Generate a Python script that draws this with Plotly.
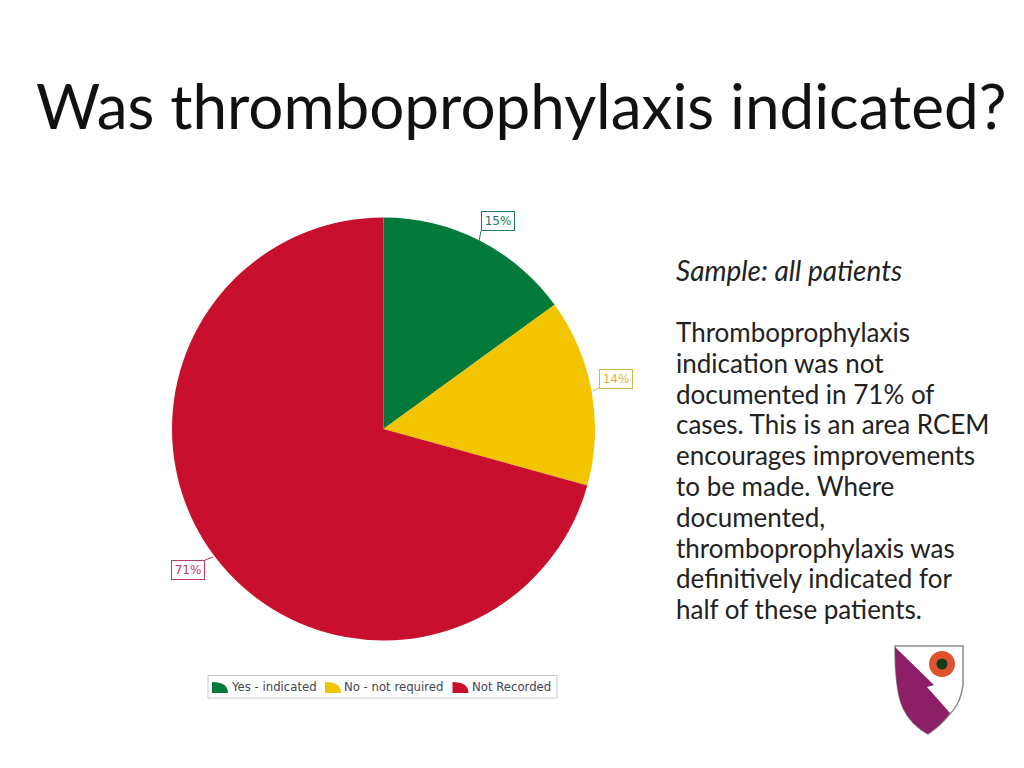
import plotly.graph_objects as go

CATEGORIES = ["Yes - indicated", "No - not required", "Not Recorded"]
VALUES = [15.0, 14.3, 70.7]
LABELS = ["15%", "14%", "71%"]
COLORS = ["#047a3a", "#f2c500", "#c8102e"]
LABEL_COLORS = ["#1f7a5c", "#d8b440", "#bf3a5e"]
TITLE = "Was thromboprophylaxis indicated?"
SAMPLE = "Sample: all patients"
BODY_LINES = ["Thromboprophylaxis", "indication was not", "documented in 71% of",
              "cases. This is an area RCEM", "encourages improvements", "to be made. Where",
              "documented,", "thromboprophylaxis was", "definitively indicated for",
              "half of these patients."]

W, H = 1024, 768
def px(x): return x / W
def py(y): return 1 - y / H
def P(x, y): return f"{px(x):.5f},{py(y):.5f}"
def paper(**kw): return dict(xref="paper", yref="paper", **kw)

cx, cy, r = 383.5, 429, 211.5
fig = go.Figure(go.Pie(
    labels=CATEGORIES, values=VALUES, sort=False, direction="clockwise", rotation=0,
    marker=dict(colors=COLORS, line=dict(width=0)), textinfo="none", hoverinfo="label+percent",
    domain=dict(x=[px(cx - r), px(cx + r)], y=[py(cy + r), py(cy - r)]),
))

ann = []
ann.append(paper(x=px(34), y=py(105), text=TITLE, xanchor="left", yanchor="middle", showarrow=False,
                 font=dict(family="Lato", size=62, color="#111111")))
ann.append(paper(x=px(674), y=py(270), text=f"<i>{SAMPLE}</i>", xanchor="left", yanchor="middle", showarrow=False,
                 font=dict(family="Lato", size=28, color="#222222")))
for i, line in enumerate(BODY_LINES):
    ann.append(paper(x=px(674), y=py(332 + i * 30.8), text=line, xanchor="left", yanchor="middle",
                     showarrow=False, font=dict(family="Lato", size=26, color="#222222")))

shapes = []

# value labels: box centre, then the leader line from the pie edge to the box
box_centres = [(498, 221.5), (616, 378.5), (188, 569.5)]
leaders = [((479, 241), (481, 231)), ((593, 391), (599, 388)), ((213, 557), (205, 560))]
for (bx, by), ((x0, y0), (x1, y1)), lab, col in zip(box_centres, leaders, LABELS, LABEL_COLORS):
    ann.append(paper(x=px(bx), y=py(by), text=lab, showarrow=False, xanchor="center", yanchor="middle",
                     bordercolor=col, borderwidth=1, borderpad=2, bgcolor="white",
                     width=28, height=14,
                     font=dict(family="DejaVu Sans", size=12, color=col)))
    shapes.append(paper(type="line", x0=px(x0), y0=py(y0), x1=px(x1), y1=py(y1),
                        line=dict(color=col, width=1)))

# legend box with quarter-pie swatches, as in the reference
shapes.append(paper(type="rect", x0=px(208), x1=px(557), y0=py(698), y1=py(675.5), fillcolor="white",
                    line=dict(color="#c8c8c8", width=1)))
swatch_x = [212, 325, 452.5]
text_x = [229, 342, 470]
for sx, tx, name, col in zip(swatch_x, text_x, CATEGORIES, COLORS):
    shapes.append(paper(type="path", fillcolor=col, line=dict(width=0),
                        path=f"M {P(sx, 693)} L {P(sx, 682)} Q {P(sx + 16, 682)} {P(sx + 16, 693)} Z"))
    ann.append(paper(x=px(tx), y=py(687), text=name, xanchor="left", yanchor="middle", showarrow=False,
                     font=dict(family="DejaVu Sans", size=11.7, color="#444455")))

# shield emblem
shapes += [
    paper(type="path", fillcolor="white", line=dict(color="#8a8a8a", width=1.5),
          path=f"M {P(895, 646)} L {P(963, 646)} L {P(963, 685)} Q {P(961, 703)} {P(950, 714)} "
               f"Q {P(940, 726)} {P(928, 734)} Q {P(911, 725)} {P(903, 708)} Q {P(895, 690)} {P(895, 646)} Z"),
    paper(type="path", fillcolor="#8c1f66", line=dict(width=0),
          path=f"M {P(895, 647)} L {P(934, 685)} L {P(927, 687)} L {P(950, 713)} "
               f"Q {P(940, 726)} {P(928, 734)} Q {P(911, 725)} {P(903, 708)} Q {P(895, 690)} {P(895, 647)} Z"),
    paper(type="circle", x0=px(929), x1=px(955), y0=py(677), y1=py(651), fillcolor="#e0522c", line=dict(width=0)),
    paper(type="circle", x0=px(936.5), x1=px(947.5), y0=py(669.5), y1=py(658.5), fillcolor="#123a1c",
          line=dict(width=0)),
]

fig.update_layout(
    width=W, height=H, margin=dict(l=0, r=0, t=0, b=0), paper_bgcolor="white",
    annotations=ann, shapes=shapes, showlegend=False,
)
fig.write_html("out.html", config=dict(displayModeBar=False),
               post_script="document.body.style.margin='0';")
